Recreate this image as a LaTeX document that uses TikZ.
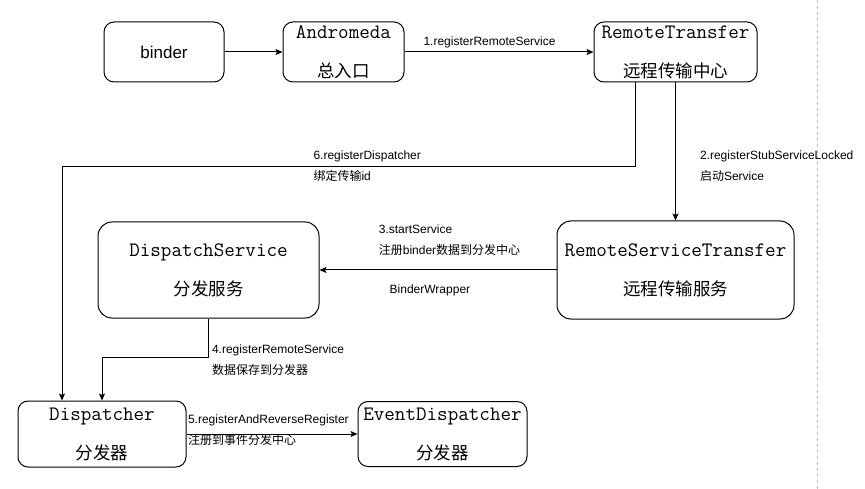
\documentclass[tikz,border=0pt]{standalone}
\usepackage{fontspec}
\setmainfont{Liberation Sans}
\newfontfamily\cjk{Noto Sans CJK SC}
\usetikzlibrary{arrows.meta}
\newcommand{\ttl}[1]{{\ttfamily\fontsize{20.5}{24}\selectfont #1}}
\newcommand{\zh}[1]{{\cjk #1}}

\begin{document}
\begin{tikzpicture}[
  x=1pt, y=-1pt,
  font=\fontsize{12}{21}\selectfont,
  >=Stealth,
  box/.style={
    draw, rounded corners=10pt, align=center,
    inner sep=2pt, line width=1pt,
    font=\fontsize{17.5}{21}\selectfont
  },
  bigbox/.style={box, rounded corners=14pt},
  arr/.style={-{Stealth[length=7pt,width=6pt,inset=1.5pt]}, line width=1pt},
  lab/.style={font=\fontsize{12}{21}\selectfont, inner sep=1pt, align=left},
  sep/.style={draw=black!25, line width=0.8pt, dash pattern=on 3pt off 3pt}
]
\useasboundingbox (0,0) rectangle (865,489);

% ---- Top row ----
\node[box, minimum width=120pt, minimum height=60pt,
  font=\fontsize{17}{20}\selectfont] (binder) at (164,52) {binder};
\node[box, minimum width=121pt, minimum height=60pt] (andro) at (343.5,52) {%
  \ttl{Andromeda}\\[18pt]\zh{总入口}};
\node[box, minimum width=163pt, minimum height=60pt] (rt) at (675.5,52) {%
  \ttl{RemoteTransfer}\\[18pt]\zh{远程传输中心}};

% ---- Middle row ----
\node[bigbox, minimum width=221pt, minimum height=96pt] (ds) at (208.5,270) {%
  \ttl{DispatchService}\\[18pt]\zh{分发服务}};
\node[bigbox, minimum width=237pt, minimum height=98pt] (rst) at (675.5,270) {%
  \ttl{RemoteServiceTransfer}\\[18pt]\zh{远程传输服务}};

% ---- Bottom row ----
\node[box, minimum width=168pt, minimum height=66pt] (disp) at (102,434) {%
  \ttl{Dispatcher}\\[18pt]\zh{分发器}};
\node[box, minimum width=169pt, minimum height=65pt] (ed) at (442.5,434) {%
  \ttl{EventDispatcher}\\[18pt]\zh{分发器}};

% ---- Separator ----
\draw[sep] (817,0) -- (817,489);

% ---- Arrows ----
\draw[arr] (binder) -- (andro);
\draw[arr] (andro) -- node[lab, above, pos=0.45, yshift=3pt]{1.registerRemoteService} (rt);
\draw[arr] (rt) -- node[lab, anchor=west, pos=0.607, xshift=23pt]{%
  2.registerStubServiceLocked\\\zh{启动}Service} (rst);
\draw[arr] (rst) --
  node[lab, anchor=west, pos=0.756, yshift=30pt]{%
    3.startService\\\zh{注册}binder\zh{数据到分发中心}}
  node[lab, pos=0.534, yshift=-20pt]{BinderWrapper} (ds);
\draw[arr] (ds.south) -- ++(0,39)
  node[lab, anchor=west, xshift=2pt, yshift=-3pt]{%
    4.registerRemoteService\\\zh{数据保存到分发器}} -| (disp.north);
\draw[arr] (disp) -- node[lab, anchor=west, pos=0, yshift=4pt]{%
  5.registerAndReverseRegister\\\zh{注册到事件分发中心}} (ed);
\draw[arr] ([xshift=-40pt]rt.south) -- ++(0,84) -|
  node[lab, anchor=west, pos=0.282]{%
    6.registerDispatcher\\\zh{绑定传输}id} ([xshift=-40pt]disp.north);

\end{tikzpicture}
\end{document}
